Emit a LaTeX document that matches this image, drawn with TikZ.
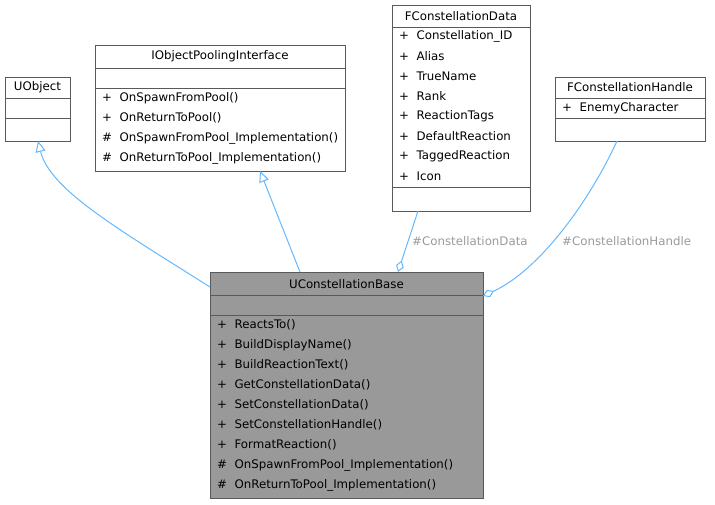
\documentclass[tikz,border=0pt]{standalone}
\usepackage{fontspec}
\setmainfont{DejaVu Sans}
\usetikzlibrary{arrows.meta}
\definecolor{edge}{HTML}{63B8FF}
\definecolor{lbl}{HTML}{9A9A9A}
\begin{document}
\begin{tikzpicture}[x=1pt,y=-1pt,font=\fontsize{11.8}{14}\selectfont,
  box/.style={draw=black!65,line width=0.8pt},
  t/.style={anchor=west,inner sep=0pt},
  c/.style={anchor=center,inner sep=0pt},
  e/.style={draw=edge,line width=1pt},
  inh/.style={e,-{Triangle[open,length=11pt,width=10pt,fill=white]}},
  agg/.style={e,-{Diamond[open,length=12pt,width=8pt,fill=white]}},
  lab/.style={text=lbl,inner sep=0pt}]
\useasboundingbox (0,0) rectangle (715,504);
% UObject
\draw[box,fill=white] (5,77) rectangle (70,141);
\draw[box] (5,98)--(70,98) (5,118)--(70,118);
\node[c] (uo) at (37.5,87.5) {UObject};
\coordinate (uob) at (38,141);
% IObjectPoolingInterface
\draw[box,fill=white] (95,45) rectangle (345,171);
\draw[box] (95,68)--(345,68) (95,88)--(345,88);
\node[c] (iop) at (220,56.5) {IObjectPoolingInterface};
\foreach \s/\n [count=\i] in {+/OnSpawnFromPool(),+/OnReturnToPool(),\#/OnSpawnFromPool\_Implementation(),\#/OnReturnToPool\_Implementation()}
  \node[t] at (102,78+20*\i) {\s\ \ \n};
\coordinate (iopb) at (260,171);
% FConstellationData
\draw[box,fill=white] (392,5) rectangle (530,211);
\draw[box] (392,27)--(530,27) (392,187)--(530,187);
\node[c] (fcd) at (461,16) {FConstellationData};
\foreach \n [count=\i] in {Constellation\_ID,Alias,TrueName,Rank,ReactionTags,DefaultReaction,TaggedReaction,Icon}
  \node[t] at (399,16+20*\i) {+\ \ \n};
\coordinate (fcdb) at (418,211);
% FConstellationHandle
\draw[box,fill=white] (555,77) rectangle (705,141);
\draw[box] (555,98)--(705,98) (555,118)--(705,118);
\node[c] (fch) at (630,87.5) {FConstellationHandle};
\node[t] at (562,108) {+\ \ EnemyCharacter};
\coordinate (fchb) at (617,141);
% UConstellationBase
\draw[box,fill=black!40] (210,272) rectangle (483,498);
\draw[box] (210,295)--(483,295) (210,315)--(483,315);
\node[c] (ucb) at (346.5,284) {UConstellationBase};
\foreach \s/\n [count=\i] in {+/ReactsTo(),+/BuildDisplayName(),+/BuildReactionText(),+/GetConstellationData(),+/SetConstellationData(),+/SetConstellationHandle(),+/FormatReaction(),\#/OnSpawnFromPool\_Implementation(),\#/OnReturnToPool\_Implementation()}
  \node[t] at (217,305+20*\i) {\s\ \ \n};
% edges
\draw[inh] (210,287) .. controls (120,230) and (50,190) .. (uob);
\draw[inh] (300,272) -- (iopb);
\draw[agg] (fcdb) -- (398,272);
\draw[agg] (fchb) .. controls (590,200) and (540,270) .. (483,296);
\node[lab,anchor=west] at (412,241) {\#ConstellationData};
\node[lab,anchor=west] at (562,241) {\#ConstellationHandle};
\end{tikzpicture}
\end{document}
